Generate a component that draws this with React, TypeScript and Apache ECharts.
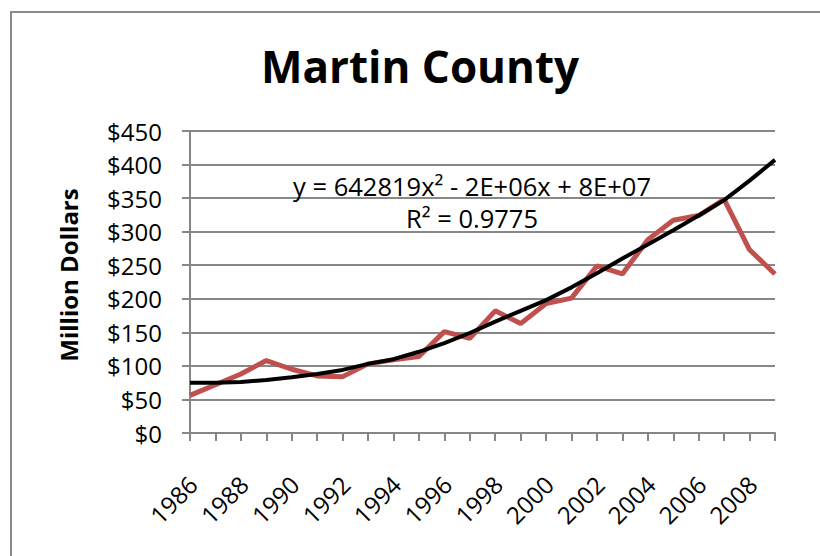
import React, { useEffect, useRef } from "react";
import * as echarts from "echarts";

const titleText = "Martin County";
const yAxisTitle = "Million Dollars";
const years = [
  "1986", "1987", "1988", "1989", "1990", "1991", "1992", "1993", "1994", "1995", "1996", "1997",
  "1998", "1999", "2000", "2001", "2002", "2003", "2004", "2005", "2006", "2007", "2008", "2009",
];
const values = [56, 72, 88, 108, 95, 85, 84, 103, 109, 114, 151, 141, 182, 163, 193, 201, 249, 237, 288, 317, 324, 348, 273, 237];
const trendValues = [75, 75, 76, 79, 83, 88, 94, 103, 110, 121, 134, 149, 166, 182, 198, 217, 238, 260, 281, 302, 324, 347, 376, 407];
const yMin = 0;
const yMax = 450;
const yStep = 50;
const equationText = "y = 642819x² - 2E+06x + 8E+07";
const r2Text = "R² = 0.9775";

const FONT = "'Open Sans', sans-serif";

export default function App() {
  const ref = useRef<HTMLDivElement>(null);
  useEffect(() => {
    document.body.style.margin = "0";
    const chart = echarts.init(ref.current!, null, { renderer: "svg" });
    chart.setOption({
      animation: false,
      backgroundColor: "#ffffff",
      textStyle: { fontFamily: FONT },
      grid: { left: 190, right: 45, top: 131, bottom: 123, containLabel: false },
      xAxis: {
        type: "category",
        data: years,
        boundaryGap: false,
        axisLine: { lineStyle: { color: "#878787", width: 2 } },
        axisTick: { show: true, interval: 0, length: 8, lineStyle: { color: "#878787", width: 2 } },
        axisLabel: {
          interval: 1,
          rotate: 45,
          fontSize: 24,
          color: "#000",
          margin: 50,
          padding: [0, -4, 0, 0],
          fontFamily: FONT,
        },
        splitLine: { show: false },
      },
      yAxis: {
        type: "value",
        min: yMin,
        max: yMax,
        interval: yStep,
        axisLine: { show: true, lineStyle: { color: "#878787", width: 2 } },
        axisTick: { show: true, length: 8, lineStyle: { color: "#878787", width: 2 } },
        axisLabel: { fontSize: 24, color: "#000", margin: 28, formatter: (v: number) => "$" + v, fontFamily: FONT },
        splitLine: { lineStyle: { color: "#878787", width: 2 } },
      },
      series: [
        {
          type: "line",
          data: values,
          symbol: "none",
          lineStyle: { color: "#C0504D", width: 5 },
          z: 2,
        },
        {
          type: "line",
          data: trendValues,
          symbol: "none",
          lineStyle: { color: "#000000", width: 4 },
          z: 3,
        },
      ],
      graphic: [
        {
          type: "rect",
          shape: { x: 11, y: 12, width: 1000, height: 1000 },
          style: { fill: "none", stroke: "#8a8a8a", lineWidth: 2 },
          silent: true,
        },
        {
          type: "text",
          x: 420,
          y: 66,
          style: {
            text: titleText,
            fontSize: 44,
            fontWeight: "bold",
            fontFamily: FONT,
            fill: "#000",
            textAlign: "center",
            textVerticalAlign: "middle",
          },
        },
        {
          type: "text",
          x: 68,
          y: 275,
          rotation: Math.PI / 2,
          style: {
            text: yAxisTitle,
            fontSize: 24,
            fontWeight: "bold",
            fontFamily: FONT,
            fill: "#000",
            textAlign: "center",
            textVerticalAlign: "middle",
          },
        },
        {
          type: "text",
          x: 472,
          y: 186,
          z: 10,
          style: {
            text: equationText,
            fontSize: 25.5,
            fontFamily: FONT,
            fill: "#000",
            textAlign: "center",
            textVerticalAlign: "middle",
          },
        },
        {
          type: "text",
          x: 472,
          y: 218,
          z: 10,
          style: {
            text: r2Text,
            fontSize: 25.5,
            fontFamily: FONT,
            fill: "#000",
            textAlign: "center",
            textVerticalAlign: "middle",
          },
        },
      ],
    });
    return () => chart.dispose();
  }, []);
  return <div ref={ref} style={{ width: 820, height: 556 }} />;
}
